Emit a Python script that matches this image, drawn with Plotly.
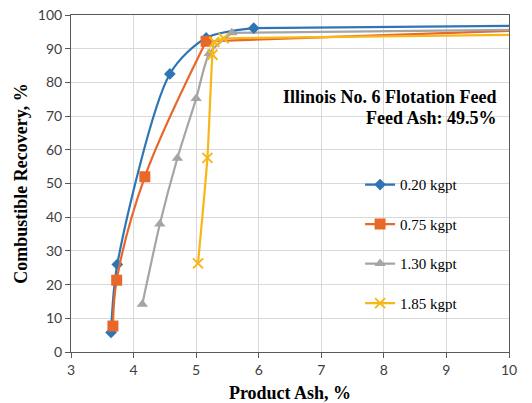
import plotly.graph_objects as go

# Product ash (%) and combustible recovery (%) per collector dosage
names = ["0.20 kgpt", "0.75 kgpt", "1.30 kgpt", "1.85 kgpt"]
ash = [
    [3.64, 3.74, 4.58, 5.16, 5.92],
    [3.67, 3.73, 4.18, 5.16],
    [4.14, 4.42, 4.70, 5.00, 5.21, 5.57],
    [5.03, 5.18, 5.26, 5.29, 5.44],
]
recovery = [
    [5.8, 26.0, 82.5, 93.2, 96.1],
    [7.7, 21.3, 52.0, 92.2],
    [14.2, 38.0, 57.5, 75.2, 88.6, 94.7],
    [26.3, 57.6, 88.2, 92.0, 93.1],
]
# recovery where each series leaves the plot at the right edge (ash = 10 %)
edge_ash = 10.0
edge_recovery = [96.8, 95.3, 95.6, 94.1]

colors = ["#2E75B6", "#E8682A", "#A5A5A5", "#F7B718"]
symbols = ["diamond", "square", "triangle-up", "x-thin"]
sizes = [9, 11, 10, 10]
smooth = [0.8, 1.0, 0.6, 0.6]

fig = go.Figure()
for i in range(4):
    # tail of the series continuing to the axis edge
    fig.add_trace(go.Scatter(
        x=[ash[i][-1], edge_ash], y=[recovery[i][-1], edge_recovery[i]],
        mode="lines", line=dict(color=colors[i], width=2.2),
        showlegend=False, hoverinfo="skip",
    ))
for i in range(4):
    mk = dict(symbol=symbols[i], size=sizes[i], color=colors[i])
    if symbols[i] == "x-thin":
        mk["line"] = dict(color=colors[i], width=2)
    fig.add_trace(go.Scatter(
        x=ash[i], y=recovery[i], name=names[i], mode="lines+markers",
        line=dict(color=colors[i], width=2.2, shape="spline", smoothing=smooth[i]),
        marker=mk, legendgroup=str(i),
    ))

fig.add_annotation(x=0.977, y=0.757, xref="paper", yref="paper", xanchor="right", yanchor="middle",
                   text="<b>Illinois No. 6 Flotation Feed</b>", showarrow=False,
                   font=dict(family="Liberation Serif", size=18, color="black"))
fig.add_annotation(x=0.977, y=0.694, xref="paper", yref="paper", xanchor="right", yanchor="middle",
                   text="<b>Feed Ash: 49.5%</b>", showarrow=False,
                   font=dict(family="Liberation Serif", size=18, color="black"))

axis_common = dict(showgrid=True, gridcolor="#D9D9D9", gridwidth=1, showline=True,
                   linecolor="#595959", linewidth=1, mirror=True, ticks="outside",
                   ticklen=5, tickcolor="#595959", zeroline=False, automargin=False,
                   tickfont=dict(family="Lato", size=14, color="#404040"))
fig.update_xaxes(range=[3, 10], dtick=1, **axis_common,
                 title=dict(text="<b>Product Ash, %</b>", standoff=10,
                            font=dict(family="Liberation Serif", size=18, color="black")))
fig.update_yaxes(range=[0, 100], dtick=10, **axis_common,
                 title=dict(text="<b>Combustible Recovery, %</b>", standoff=5,
                            font=dict(family="Liberation Serif", size=18, color="black")))

fig.update_layout(
    width=532, height=403,
    margin=dict(l=71, r=23, t=15, b=51),
    paper_bgcolor="white", plot_bgcolor="white",
    legend=dict(x=0.66, y=0.545, xanchor="left", yanchor="top", tracegroupgap=17,
                bgcolor="rgba(0,0,0,0)", font=dict(family="Liberation Serif", size=15, color="black"),
                itemwidth=30),
)
fig.write_html("out.html")
